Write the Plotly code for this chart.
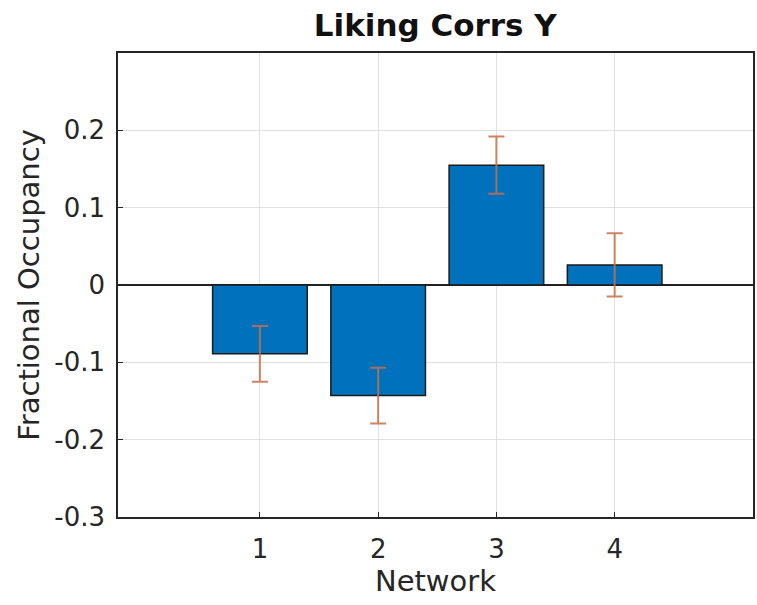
import plotly.graph_objects as go

networks = [1, 2, 3, 4]
occupancy = [-0.089, -0.143, 0.155, 0.026]
err = [0.036, 0.036, 0.037, 0.041]
ytick_vals = [-0.3, -0.2, -0.1, 0, 0.1, 0.2]
ytick_text = ["-0.3", "-0.2", "-0.1", "0", "0.1", "0.2"]

FONT = "DejaVu Sans"
TXT = "#262626"

fig = go.Figure()
fig.add_trace(go.Bar(
    x=networks, y=occupancy, width=0.8,
    marker=dict(color="#0072BD", line=dict(color="#1a1a1a", width=1.5)),
    error_y=dict(type="data", array=err, visible=True,
                 color="rgba(200,110,70,0.85)", thickness=2, width=8),
    showlegend=False,
))

fig.update_layout(
    width=757, height=605,
    margin=dict(l=118, r=2, t=53, b=88),
    paper_bgcolor="white", plot_bgcolor="white",
    font=dict(family=FONT, color=TXT),
    title=dict(text="<b>Liking Corrs Y</b>", x=0.575, xanchor="center",
               y=1 - 25 / 605, yanchor="middle", yref="container",
               font=dict(size=31, color="#111111", family=FONT)),
    bargap=0.2,
)
fig.update_xaxes(
    range=[-0.2, 5.17], tickmode="array", tickvals=networks,
    ticktext=[str(n) for n in networks],
    showgrid=True, gridcolor="#e0e0e0", gridwidth=1,
    showline=True, mirror=True, linecolor=TXT, linewidth=1.5,
    ticks="inside", ticklen=5, tickcolor=TXT,
    tickfont=dict(size=26, color=TXT), ticklabelstandoff=8,
    title=dict(text="Network", font=dict(size=29, color=TXT), standoff=2),
    zeroline=False,
)
fig.update_yaxes(
    range=[-0.3, 0.3], tickmode="array", tickvals=ytick_vals, ticktext=ytick_text,
    showgrid=True, gridcolor="#e0e0e0", gridwidth=1,
    showline=True, mirror=True, linecolor=TXT, linewidth=1.5,
    ticks="inside", ticklen=5, tickcolor=TXT,
    tickfont=dict(size=26, color=TXT), ticklabelstandoff=6,
    title=dict(text="Fractional Occupancy", font=dict(size=29, color=TXT), standoff=6),
    zeroline=True, zerolinecolor="#222222", zerolinewidth=1.5,
)

fig.write_html("out.html")
